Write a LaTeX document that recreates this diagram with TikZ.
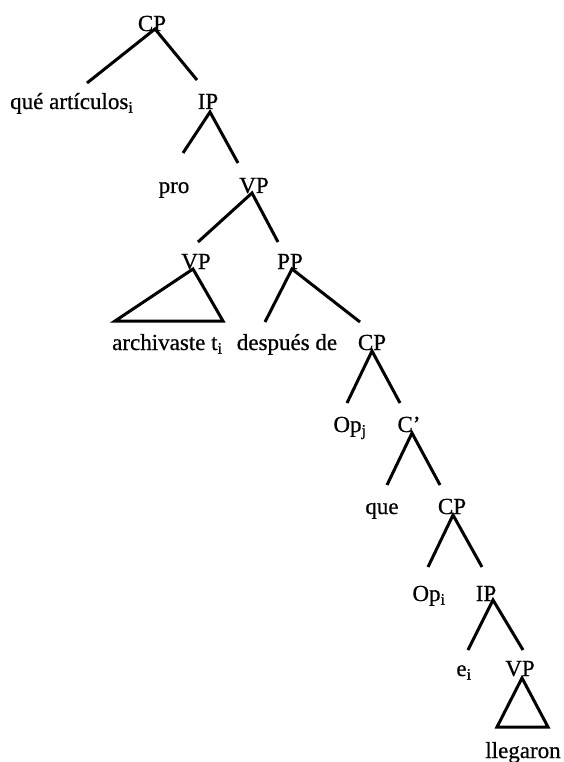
\documentclass[tikz,border=0pt]{standalone}
\usepackage{fontspec}
\setmainfont[FakeBold=0.6]{Liberation Serif}
\usetikzlibrary{calc}
\begin{document}
\begin{tikzpicture}[x=1pt,y=-1pt,
  lbl/.style={anchor=base,inner sep=0pt,font=\fontsize{23}{27}\selectfont},
  edge/.style={line width=3pt},
  tri/.style={line width=3pt,line join=miter}]
\useasboundingbox (0,0) rectangle (563,762);
\node[lbl] (cp1) at (152,31) {CP};
\node[lbl,anchor=base west] (qa) at (10,109) {qué artículos\textsubscript{i}};
\node[lbl] (ip1) at (208,109) {IP};
\node[lbl] (pro) at (174,193) {pro};
\node[lbl] (vp1) at (254,193) {VP};
\node[lbl] (vp2) at (196,269) {VP};
\node[lbl] (pp) at (290,269) {PP};
\node[lbl,anchor=base west] (arch) at (112,350) {archivaste t\textsubscript{i}};
\node[lbl] (desp) at (287,350) {después de};
\node[lbl] (cp2) at (372,350) {CP};
\node[lbl] (opj) at (350,432) {Op\textsubscript{j}};
\node[lbl] (cbar) at (409,432) {C’};
\node[lbl] (que) at (382,514) {que};
\node[lbl] (cp3) at (452,514) {CP};
\node[lbl] (opi) at (429,601) {Op\textsubscript{i}};
\node[lbl] (ip3) at (486,601) {IP};
\node[lbl] (ei) at (464,676) {e\textsubscript{i}};
\node[lbl] (vp4) at (520,676) {VP};
\node[lbl] (lleg) at (523,758) {llegaron};
% connectors
\draw[edge] ($(qa.base west)+(77,-26)$) -- ($(cp1.base)+(3,-2)$) -- ($(ip1.base)+(-11,-29)$);
\draw[edge] ($(pro.base)+(9,-40)$) -- ($(ip1.base)+(2,3)$) -- ($(vp1.base)+(-16,-30)$);
\draw[edge] ($(vp2.base)+(2,-27)$) -- ($(vp1.base)+(-2,0)$) -- ($(pp.base)+(-12,-27)$);
\draw[tri] ($(vp2.base)+(-3,0)$) -- ($(vp2.base)+(-81,52)$) -- ($(vp2.base)+(27,52)$) -- cycle;
\draw[edge] ($(desp.base)+(-22,-28)$) -- ($(pp.base)+(2,0)$) -- ($(cp2.base)+(-12,-28)$);
\draw[edge] ($(opj.base)+(-3,-29)$) -- ($(cp2.base)+(0,1)$) -- ($(cbar.base)+(-9,-29)$);
\draw[edge] ($(que.base)+(5,-29)$) -- ($(cbar.base)+(3,1)$) -- ($(cp3.base)+(-12,-29)$);
\draw[edge] ($(opi.base)+(-1,-34)$) -- ($(cp3.base)+(1,1)$) -- ($(ip3.base)+(-4,-34)$);
\draw[edge] ($(ei.base)+(4,-26)$) -- ($(ip3.base)+(7,-1)$) -- ($(vp4.base)+(3,-26)$);
\draw[tri] ($(vp4.base)+(2,2)$) -- ($(vp4.base)+(-23,51)$) -- ($(vp4.base)+(28,51)$) -- cycle;
\end{tikzpicture}
\end{document}
